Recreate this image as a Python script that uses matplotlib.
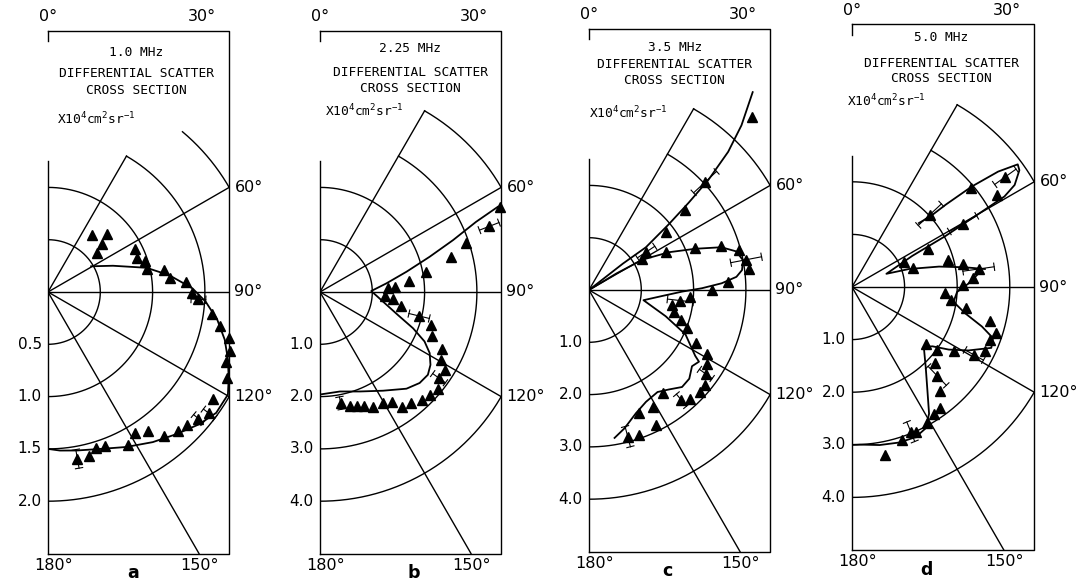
import numpy as np
import matplotlib.pyplot as plt

plt.rcParams['font.family'] = 'DejaVu Sans'
plt.rcParams['mathtext.fontset'] = 'custom'
plt.rcParams['mathtext.rm'] = 'DejaVu Sans Mono'
plt.rcParams['mathtext.default'] = 'rm'

# --- panel a : 1.0 MHz (angle in deg, value x10^4 cm^2 sr^-1) ---
a_ang = [37.9, 45.6, 48.5, 51.9, 64.0, 68.8, 72.1, 77.1, 79.4, 83.6, 85.7, 90.5, 92.8, 97.6,
         101.1, 104.3, 107.8, 111.6, 115.6, 122.9, 127.0, 130.1, 133.6, 137.0, 141.2, 144.3,
         148.4, 152.2, 159.8, 163.0, 166.0, 170.0]
a_r = [0.69, 0.79, 0.69, 0.60, 0.93, 0.91, 0.97, 0.97, 1.13, 1.17, 1.32, 1.38, 1.44, 1.58,
       1.68, 1.79, 1.83, 1.83, 1.90, 1.88, 1.93, 1.88, 1.84, 1.82, 1.77, 1.64,
       1.58, 1.65, 1.57, 1.56, 1.62, 1.62]
a_curve_ang = [59.2, 68.0, 76.2, 82.1, 88.5, 93.5, 99.3, 105.1, 110.7, 115.9, 119.7, 125.7,
               131.2, 138.0, 145.1, 153.2, 161.8, 169.7, 175.7, 180.0]
a_curve_r = [0.48, 0.67, 0.97, 1.17, 1.38, 1.51, 1.64, 1.75, 1.84, 1.92, 1.98, 1.98,
             1.92, 1.83, 1.75, 1.66, 1.58, 1.54, 1.52, 1.50]
a_err_i = [12, 20, 21, 31]
a_err = [0.07, 0.07, 0.06, 0.09]

# --- panel b : 2.25 MHz ---
b_ang = [64.7, 68.8, 71.6, 75.2, 79.2, 82.8, 86.4, 86.9, 93.5, 95.7, 99.7, 103.6, 106.5,
         111.3, 115.0, 119.6, 122.0, 125.9, 129.4, 133.1, 136.6, 140.5, 144.4, 146.7, 150.4,
         155.2, 158.9, 162.0, 165.3, 169.5]
b_r = [3.81, 3.47, 2.94, 2.59, 2.07, 1.71, 1.43, 1.30, 1.24, 1.40, 1.58, 1.95, 2.22,
       2.30, 2.58, 2.65, 2.81, 2.81, 2.92, 2.87, 2.85, 2.75, 2.70, 2.52, 2.44,
       2.42, 2.34, 2.30, 2.25, 2.16]
b_curve_ang = [64.4, 65.8, 68.7, 72.2, 76.8, 82.6, 88.9, 98.7, 106.4, 111.3, 115.3, 119.1,
               123.4, 127.5, 132.4, 138.2, 147.4, 158.1, 168.7, 180.0]
b_curve_r = [3.77, 3.27, 2.73, 2.20, 1.70, 1.28, 0.98, 1.22, 1.55, 1.91, 2.21, 2.40,
             2.53, 2.60, 2.58, 2.48, 2.24, 2.05, 1.94, 1.96]
b_err_i = [1, 11, 17, 29]
b_err = [0.2, 0.2, 0.15, 0.12]

# --- panel c : 3.5 MHz ---
c_ang = [43.3, 47.1, 50.3, 53.3, 56.4, 59.5, 63.9, 68.4, 71.4, 75.2, 79.1, 82.7, 86.6, 90.0,
         93.7, 96.6, 100.1, 104.8, 107.9, 111.2, 116.2, 118.6, 122.2, 125.7, 129.4, 132.5,
         137.0, 140.0, 144.5, 151.2, 157.8, 153.7, 161.1, 165.2]
c_r = [4.54, 3.03, 2.39, 1.84, 1.31, 1.18, 1.64, 2.19, 2.66, 2.96, 3.06, 3.09, 2.66, 2.36,
       1.94, 1.76, 1.62, 1.68, 1.84, 2.00, 2.28, 2.56, 2.66, 2.75, 2.87, 2.88,
       2.84, 2.75, 2.43, 2.55, 2.55, 2.88, 2.93, 2.90]
c_curve1_ang = [50.0, 52.1, 53.1, 50.5, 48.8, 47.3, 45.2, 42.8, 39.6]
c_curve1_r = [0.0, 0.82, 1.36, 1.98, 2.53, 3.11, 3.75, 4.29, 4.91]
c_curve2_ang = [58.0, 58.9, 60.5, 64.7, 68.8, 72.1, 75.3, 79.1, 82.6, 84.9, 87.1, 89.1, 91.0,
                94.6, 100.6, 108.9, 114.7, 121.8, 123.1, 126.5, 131.5, 136.2, 141.2, 146.1,
                153.0, 159.1, 165.6, 170.2]
c_curve2_r = [0.0, 0.61, 1.18, 1.69, 2.18, 2.66, 2.91, 3.00, 2.95, 2.83, 2.54, 2.16, 1.78,
              1.41, 1.06, 1.55, 2.03, 2.39, 2.51, 2.45, 2.56, 2.57, 2.44, 2.35,
              2.40, 2.52, 2.73, 2.87]
c_err_i = [1, 4, 10, 15, 23, 27, 33]
c_err = [0.3, 0.2, 0.3, 0.25, 0.15, 0.15, 0.2]

# --- panel d : 5.0 MHz ---
d_ang = [54.3, 57.6, 50.1, 47.1, 60.3, 63.2, 64.5, 73.0, 74.1, 78.3, 81.9, 85.8, 88.8, 93.5,
         97.6, 100.7, 104.0, 107.7, 110.9, 115.8, 119.1, 122.2, 126.8, 127.7, 132.4, 136.2,
         139.7, 144.0, 147.1, 151.0, 156.0, 157.9, 161.9, 168.7]
d_r = [3.59, 3.27, 2.94, 2.02, 2.43, 1.62, 1.09, 1.22, 1.90, 2.15, 2.43, 2.31, 2.11, 1.77,
       1.89, 2.20, 2.71, 2.88, 2.81, 2.81, 2.66, 2.29, 2.01, 1.77, 2.13, 2.34,
       2.60, 2.84, 2.87, 2.95, 3.01, 2.97, 3.06, 3.25]
d_curve1_ang = [46.3, 48.0, 48.7, 50.0, 51.7, 53.5, 55.1, 57.9, 59.3, 60.1, 61.4, 62.7, 69.0,
                72.5, 76.8, 80.1, 82.3]
d_curve1_r = [1.76, 2.01, 2.37, 2.97, 3.54, 3.92, 3.88, 3.65, 3.37, 2.70, 2.02, 1.29, 0.70,
              1.14, 1.70, 2.18, 2.55]
d_curve2_ang = [84.1, 88.4, 92.7, 98.3, 103.1, 106.9, 109.9, 113.6, 118.6, 122.9, 126.4, 129.9,
                137.6, 144.0, 148.7, 152.5, 157.0, 163.1, 170.1, 177.1, 180.0]
d_curve2_r = [2.41, 2.21, 2.00, 1.95, 2.21, 2.58, 2.85, 2.89, 2.52, 2.19, 1.90, 1.78,
              2.08, 2.44, 2.82, 3.03, 3.10, 3.09, 3.05, 3.00, 3.00]
d_err_i = [0, 3, 4, 10, 20, 25, 31]
d_err = [0.25, 0.3, 0.3, 0.3, 0.2, 0.25, 0.2]

a_ticks = ['0.5', '1.0', '1.5', '2.0']
bcd_ticks = ['1.0', '2.0', '3.0', '4.0']

panels = [
    dict(letter='a', freq='1.0 MHz', step=0.5, ox=48, oy=292, s=52.3,
         ang=a_ang, r=a_r, curves=[(a_curve_ang, a_curve_r)], err=(a_err_i, a_err),
         arc3=30, arc4=40, ray30=3.0, ticks=a_ticks,
         ty=(4.57, 4.17, 3.85, 3.31), tx=1.69, ux=0.17, lx=1.62),
    dict(letter='b', freq='2.25 MHz', step=1.0, ox=320, oy=292, s=52.3,
         ang=b_ang, r=b_r, curves=[(b_curve_ang, b_curve_r)], err=(b_err_i, b_err),
         arc3=30, arc4=30, ray30=4.0, ticks=bcd_ticks,
         ty=(4.65, 4.19, 3.89, 3.47), tx=1.73, ux=0.1, lx=1.8),
    dict(letter='c', freq='3.5 MHz', step=1.0, ox=589, oy=290, s=52.3,
         ang=c_ang, r=c_r, curves=[(c_curve1_ang, c_curve1_r), (c_curve2_ang, c_curve2_r)],
         err=(c_err_i, c_err), arc3=30, arc4=30, ray30=4.0, ticks=bcd_ticks,
         ty=(4.63, 4.32, 4.0, 3.39), tx=1.64, ux=0.0, lx=1.5),
    dict(letter='d', freq='5.0 MHz', step=1.0, ox=852, oy=287, s=52.6,
         ang=d_ang, r=d_r, curves=[(d_curve1_ang, d_curve1_r), (d_curve2_ang, d_curve2_r)],
         err=(d_err_i, d_err), arc3=30, arc4=30, ray30=4.0, ticks=bcd_ticks,
         ty=(4.75, 4.25, 3.96, 3.53), tx=1.7, ux=-0.1, lx=1.42),
]

W, H = 1090, 583
XR = 4 * np.sin(np.radians(60))   # right edge of frame (grid units)
YT = 5.0


def to_xy(ang, r, step):
    g = np.asarray(r, dtype=float) / step
    t = np.radians(np.asarray(ang, dtype=float))
    return g * np.sin(t), g * np.cos(t)


fig = plt.figure(figsize=(W / 100, H / 100), dpi=100)

for p in panels:
    s = p['s']
    ax = fig.add_axes([p['ox'] / W, (H - (p['oy'] + YT * s)) / H,
                       XR * s / W, 2 * YT * s / H])
    ax.set_xlim(0, XR)
    ax.set_ylim(-YT, YT)
    ax.axis('off')
    k = dict(color='black', lw=1.0)

    # --- frame ---
    ax.plot([0, XR, XR, 0], [YT, YT, -YT, -YT], clip_on=False, **k)
    ax.plot([0, 0], [-YT, 2.5], clip_on=False, **k)
    ax.plot([0, 0], [YT, YT - 0.2], clip_on=False, **k)

    # --- polar grid ---
    for R, t0 in [(1, 0), (2, 0), (3, p['arc3']), (4, p['arc4'])]:
        t = np.radians(np.linspace(t0, 180, 300))
        ax.plot(R * np.sin(t), R * np.cos(t), **k)
    for deg, L in [(30, p['ray30']), (60, 4), (90, XR), (120, 4), (150, YT / np.cos(np.radians(30)))]:
        t = np.radians(deg)
        ax.plot([0, L * np.sin(t)], [0, L * np.cos(t)], **k)

    # --- theory curves ---
    for ca, cr in p['curves']:
        x, y = to_xy(ca, cr, p['step'])
        ax.plot(x, y, color='black', lw=1.3)

    # --- data ---
    x, y = to_xy(p['ang'], p['r'], p['step'])
    ax.plot(x, y, '^', color='black', ms=6.5, clip_on=False)
    for i, e in zip(*p['err']):
        a0, r0 = p['ang'][i], p['r'][i]
        xe, ye = to_xy([a0, a0], [r0 - e, r0 + e], p['step'])
        ax.plot(xe, ye, color='black', lw=0.8, clip_on=False)
        t = np.radians(a0)
        for xc, yc in zip(xe, ye):
            ax.plot([xc - 0.07 * np.cos(t), xc + 0.07 * np.cos(t)],
                    [yc + 0.07 * np.sin(t), yc - 0.07 * np.sin(t)],
                    color='black', lw=0.8, clip_on=False)

    # --- texts ---
    mono = dict(family='DejaVu Sans Mono', fontsize=9.3, ha='center', va='center')
    ax.text(p['tx'], p['ty'][0], p['freq'], **mono)
    ax.text(p['tx'], p['ty'][1], 'DIFFERENTIAL SCATTER', **mono)
    ax.text(p['tx'], p['ty'][2], 'CROSS SECTION', **mono)
    ax.text(p['ux'], p['ty'][3], r'X10$^4$cm$^2$sr$^{-1}$', family='DejaVu Sans Mono',
            fontsize=9.3, ha='left', va='center')

    lab = dict(fontsize=11.5, clip_on=False)
    ax.text(0.0, YT + 0.12, '0°', ha='center', va='bottom', **lab)
    ax.text(2.95, YT + 0.12, '30°', ha='center', va='bottom', **lab)
    ax.text(0.1, -YT - 0.08, '180°', ha='center', va='top', **lab)
    ax.text(2.9, -YT - 0.08, '150°', ha='center', va='top', **lab)
    for deg, txt in [(60, '60°'), (90, '90°'), (120, '120°')]:
        ax.text(XR + 0.1, 4 * np.cos(np.radians(deg)) if deg != 90 else 0, txt,
                ha='left', va='center', **lab)
    for j, txt in enumerate(p['ticks']):
        ax.text(-0.12, -(j + 1), txt, ha='right', va='center', fontsize=11, clip_on=False)
    ax.text(p['lx'], -YT - 0.38, p['letter'], ha='center', va='center',
            fontsize=12.5, fontweight='bold', clip_on=False)

fig.savefig('out.png', dpi=100)
